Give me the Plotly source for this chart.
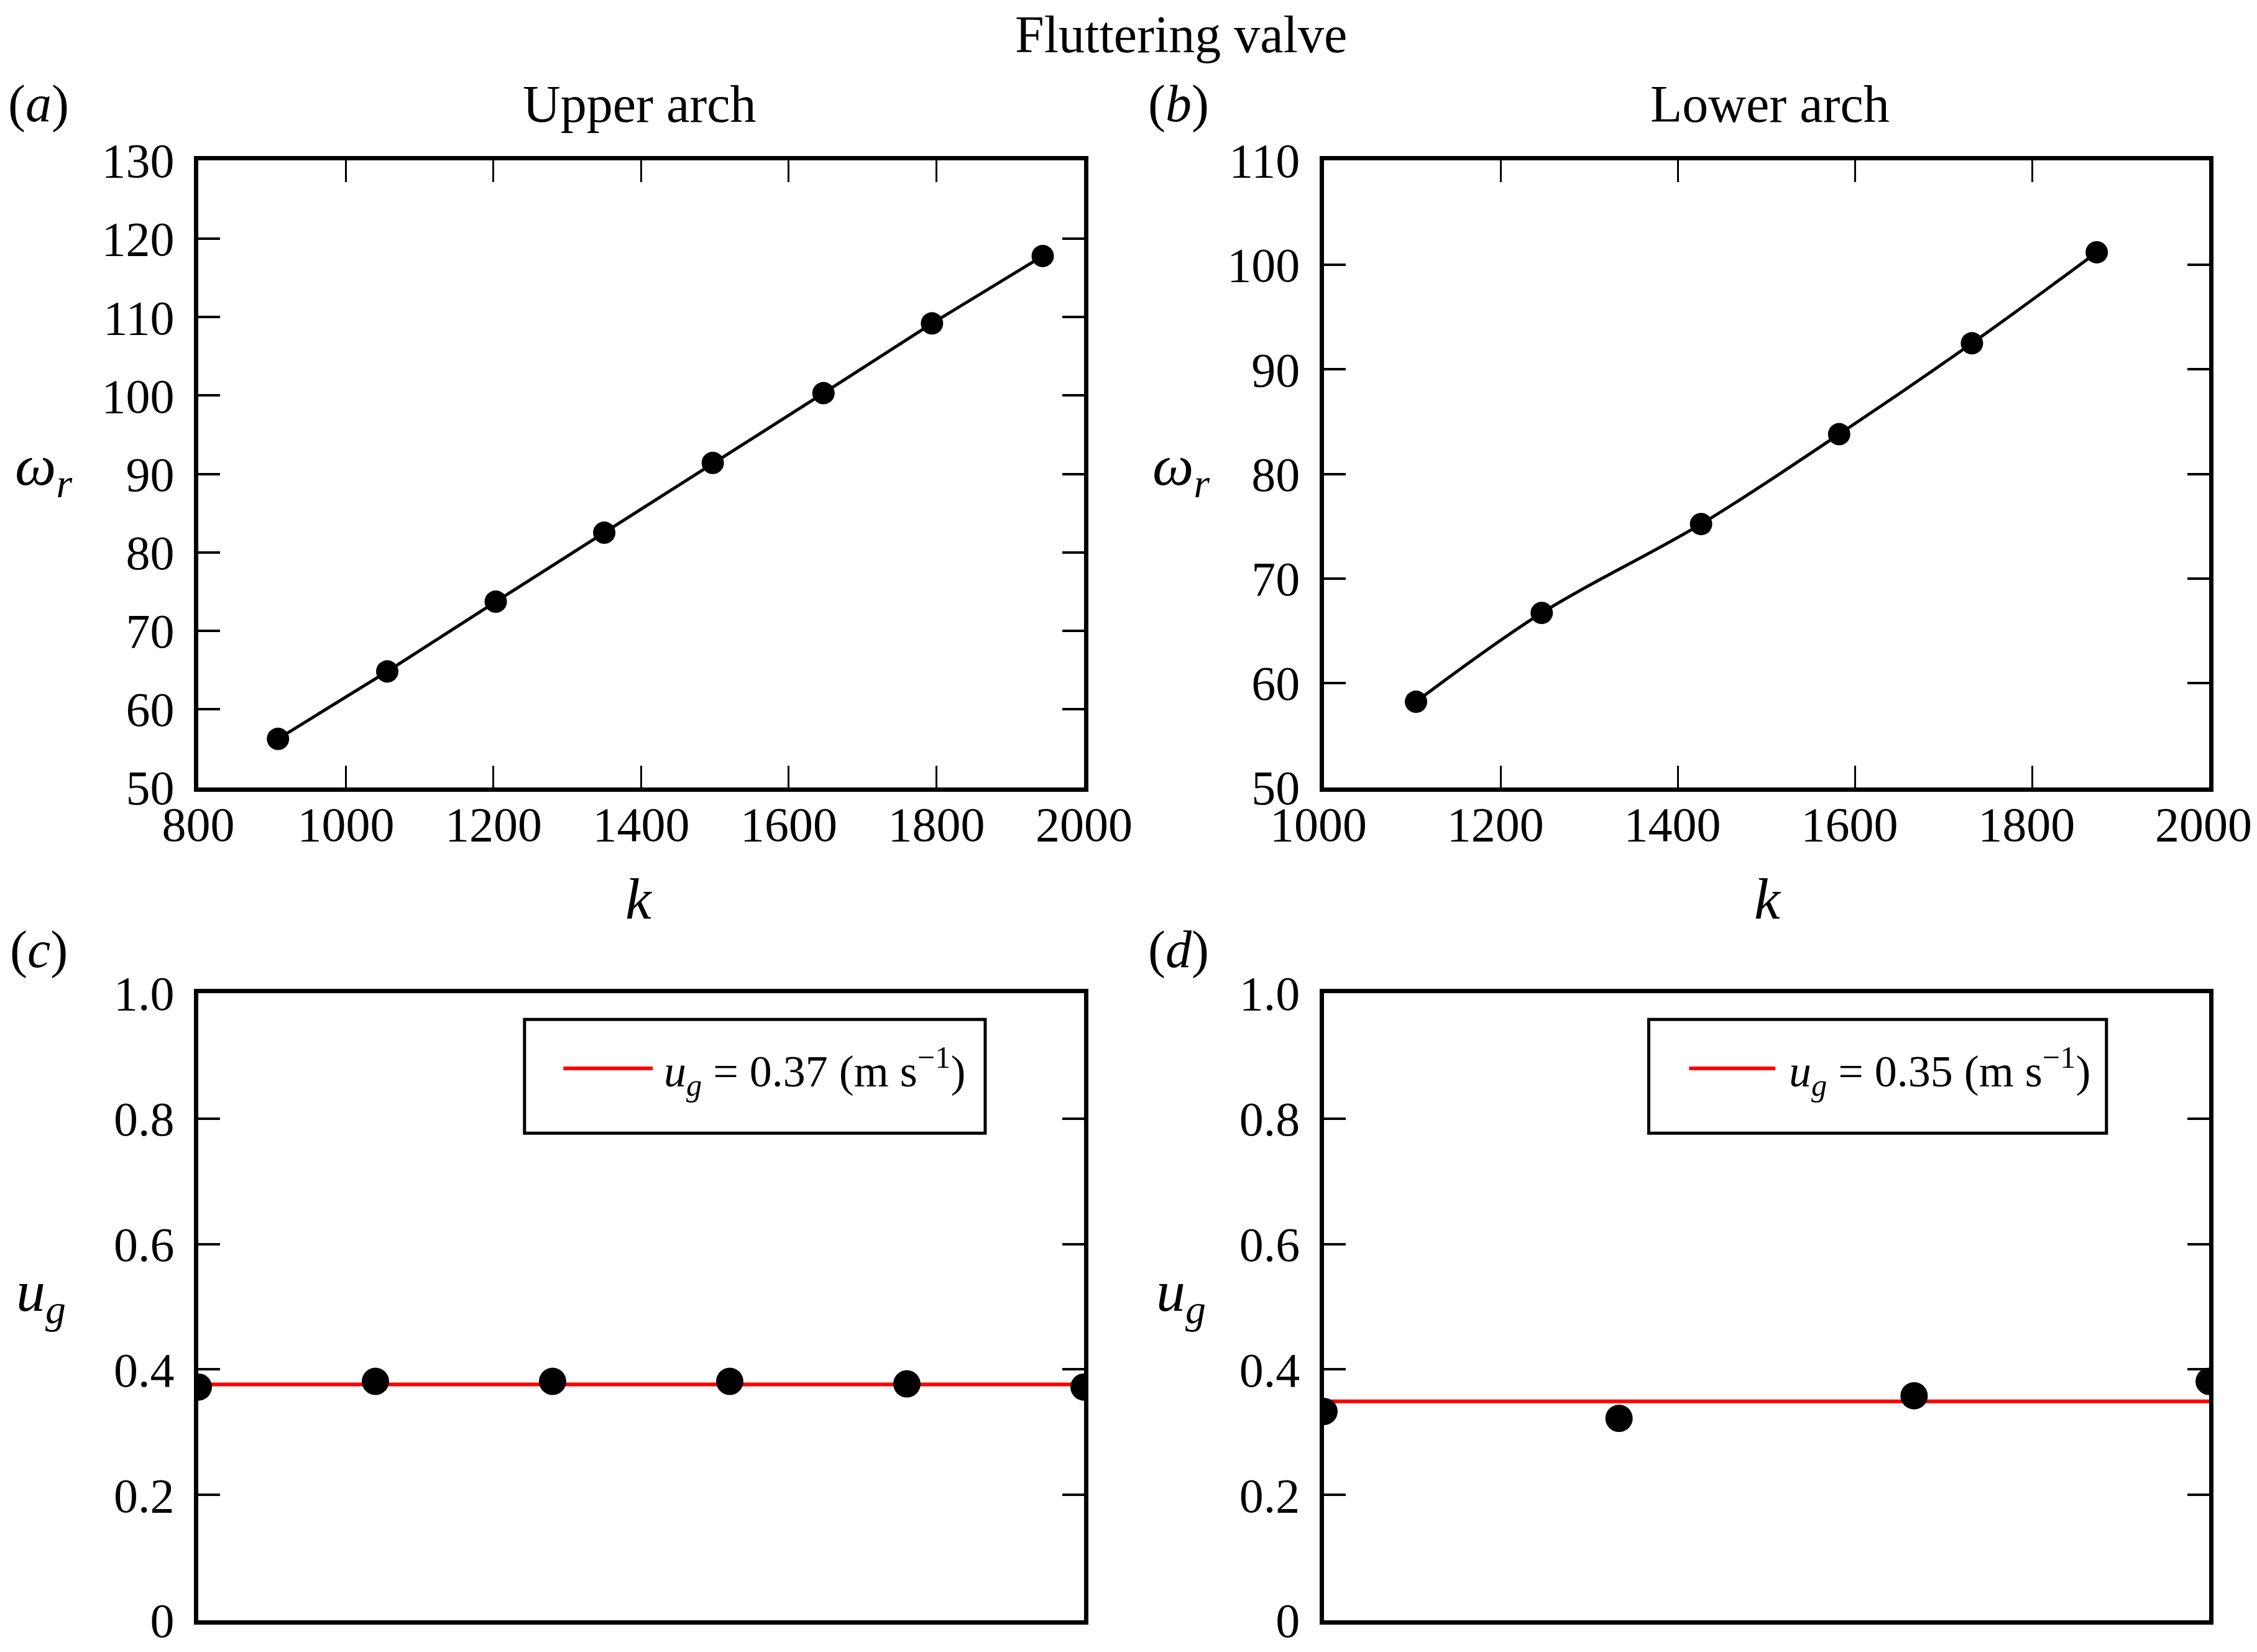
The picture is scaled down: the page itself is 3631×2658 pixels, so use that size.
import plotly.graph_objects as go

# ---------------- data ----------------
k_upper = [908, 1056, 1203, 1350, 1497, 1647, 1794, 1944]
w_upper = [56.2, 64.8, 73.7, 82.5, 91.4, 100.3, 109.2, 117.8]

k_lower = [1104, 1246, 1426, 1582, 1732, 1873]
w_lower = [58.2, 66.7, 75.2, 83.8, 92.5, 101.2]

idx_c = [1, 2, 3, 4, 5, 6]
ug_c = [0.372, 0.381, 0.381, 0.381, 0.377, 0.372]
ug_c_mean = 0.376

idx_d = [1, 2, 3, 4]
ug_d = [0.333, 0.322, 0.358, 0.381]
ug_d_mean = 0.349

legend_c = "<i>u</i><sub><i>g</i></sub> = 0.37 (m s<sup>−1</sup>)"
legend_d = "<i>u</i><sub><i>g</i></sub> = 0.35 (m s<sup>−1</sup>)"

FONT = "Liberation Serif"
FS = 84
TFS = 78

fig = go.Figure()

fig.add_trace(go.Scatter(x=k_upper, y=w_upper, mode="lines+markers",
                         line=dict(color="black", width=5),
                         marker=dict(color="black", size=36),
                         xaxis="x", yaxis="y", showlegend=False))
fig.add_trace(go.Scatter(x=k_lower, y=w_lower, mode="lines+markers",
                         line=dict(color="black", width=5, shape="spline", smoothing=1),
                         marker=dict(color="black", size=36),
                         xaxis="x2", yaxis="y2", showlegend=False))

fig.add_trace(go.Scatter(x=[idx_c[0], idx_c[-1]], y=[ug_c_mean, ug_c_mean], mode="lines",
                         line=dict(color="red", width=6), name=legend_c,
                         xaxis="x3", yaxis="y3", showlegend=False))
fig.add_trace(go.Scatter(x=idx_c, y=ug_c, mode="markers",
                         marker=dict(color="black", size=44),
                         xaxis="x3", yaxis="y3", showlegend=False))

fig.add_trace(go.Scatter(x=[idx_d[0], idx_d[-1]], y=[ug_d_mean, ug_d_mean], mode="lines",
                         line=dict(color="red", width=6), name=legend_d,
                         xaxis="x4", yaxis="y4", showlegend=False))
fig.add_trace(go.Scatter(x=idx_d, y=ug_d, mode="markers",
                         marker=dict(color="black", size=44),
                         xaxis="x4", yaxis="y4", showlegend=False))

xa_left = [0.08565, 0.4781]
xa_right = [0.5844, 0.9766]
ya_top = [0.52634, 0.90594]
ya_bot = [0.02220, 0.40181]

common_x = dict(showline=True, linecolor="black", linewidth=7, mirror="ticks",
                ticks="inside", ticklen=35, tickwidth=3, tickcolor="black",
                showgrid=False, zeroline=False, automargin=False,
                ticklabeloverflow="allow", ticklabelstandoff=-15,
                tickfont=dict(family=FONT, size=TFS, color="black"))
common_y = dict(showline=True, linecolor="black", linewidth=7, mirror="ticks",
                ticks="inside", ticklen=35, tickwidth=4, tickcolor="black",
                showgrid=False, zeroline=False, automargin=False,
                ticklabeloverflow="allow", ticklabelstandoff=16,
                tickfont=dict(family=FONT, size=TFS, color="black"))

fig.update_layout(
    width=3631, height=2658,
    margin=dict(l=0, r=0, t=0, b=0, autoexpand=False),
    paper_bgcolor="white", plot_bgcolor="white",
    font=dict(family=FONT, size=FS, color="black"),
    showlegend=False,
    xaxis=dict(domain=xa_left, anchor="y", range=[800, 2000], dtick=200, **common_x),
    yaxis=dict(domain=ya_top, anchor="x", range=[50, 130], dtick=10, **common_y),
    xaxis2=dict(domain=xa_right, anchor="y2", range=[1000, 2000], dtick=200,
                ticklabelshift=-9, **common_x),
    yaxis2=dict(domain=ya_top, anchor="x2", range=[50, 110], dtick=10, **common_y),
    xaxis3=dict(domain=xa_left, anchor="y3", range=[1, 6], showticklabels=False,
                **{**common_x, "ticks": ""}),
    yaxis3=dict(domain=ya_bot, anchor="x3", range=[0, 1],
                tickvals=[0, 0.2, 0.4, 0.6, 0.8, 1.0],
                ticktext=["0", "0.2", "0.4", "0.6", "0.8", "1.0"], **common_y),
    xaxis4=dict(domain=xa_right, anchor="y4", range=[1, 4], showticklabels=False,
                **{**common_x, "ticks": ""}),
    yaxis4=dict(domain=ya_bot, anchor="x4", range=[0, 1],
                tickvals=[0, 0.2, 0.4, 0.6, 0.8, 1.0],
                ticktext=["0", "0.2", "0.4", "0.6", "0.8", "1.0"], **common_y),
)

def ann(text, x, y, size=FS, xanchor="center", yanchor="middle"):
    fig.add_annotation(text=text, x=x, y=y, xref="paper", yref="paper",
                       xanchor=xanchor, yanchor=yanchor,
                       showarrow=False, font=dict(family=FONT, size=size, color="black"))

ann("Fluttering valve", 0.521, 0.982)
ann("(<i>a</i>)", 0.015, 0.940)
ann("(<i>b</i>)", 0.520, 0.940)
ann("(<i>c</i>)", 0.015, 0.428)
ann("(<i>d</i>)", 0.520, 0.428)
ann("Upper arch", 0.281, 0.940)
ann("Lower arch", 0.782, 0.940)
ann("<i>ω</i><sub><i>r</i></sub>", 0.017, 0.719, size=94)
ann("<i>ω</i><sub><i>r</i></sub>", 0.521, 0.719, size=94)
ann("<i>k</i>", 0.281, 0.459, size=94)
ann("<i>k</i>", 0.781, 0.459, size=94)
ann("<i>u</i><sub><i>g</i></sub>", 0.016, 0.219, size=94)
ann("<i>u</i><sub><i>g</i></sub>", 0.521, 0.219, size=94)

# framed legends as in the reference
for (bx0, bx1, lx0, lx1, tx, txt) in [
        (0.2302, 0.4343, 0.2474, 0.2870, 0.2915, legend_c),
        (0.7283, 0.9311, 0.7462, 0.7844, 0.7900, legend_d)]:
    fig.add_shape(type="rect", xref="paper", yref="paper", x0=bx0, x1=bx1,
                  y0=0.3171, y1=0.3859, line=dict(color="black", width=5),
                  fillcolor="white")
    fig.add_shape(type="line", xref="paper", yref="paper", x0=lx0, x1=lx1,
                  y0=0.3563, y1=0.3563, line=dict(color="red", width=6))
    ann(txt, tx, 0.3545, size=72, xanchor="left")

fig.write_html("out.html")
